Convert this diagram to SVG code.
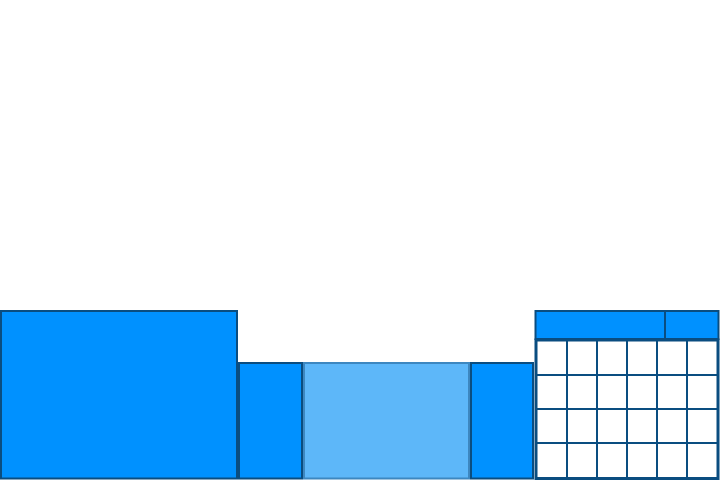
<svg xmlns="http://www.w3.org/2000/svg" width="720" height="480" viewBox="0 0 720 480">
<style>
.b{fill:#0091ff;stroke:#0a4d80;stroke-width:2}
.l{fill:#5db7f9;stroke:#3d87c0;stroke-width:2}
.g{fill:none;stroke:#0a4d80;stroke-width:2}
</style>
<rect width="720" height="480" fill="#fff"/>
<g id="n1"><rect class="b" x="1" y="311" width="236" height="167.5"/></g>
<g id="n2"><rect class="b" x="239" y="363" width="63" height="115.5"/></g>
<g id="n3"><rect class="l" x="304" y="363" width="165" height="115.5"/></g>
<g id="n4"><rect class="b" x="471" y="363" width="62" height="115.5"/></g>
<g id="n5">
<rect class="b" x="535.5" y="311" width="183" height="28"/>
<line class="g" x1="665" y1="311" x2="665" y2="339"/>
<rect x="536" y="340" width="182" height="138.5" fill="#fff" stroke="#0a4d80" stroke-width="3"/>
<path class="g" d="M567 340V479M597 340V479M627 340V479M657 340V479M687 340V479M536 375H718M536 409H718M536 443H718"/>
</g>
</svg>
